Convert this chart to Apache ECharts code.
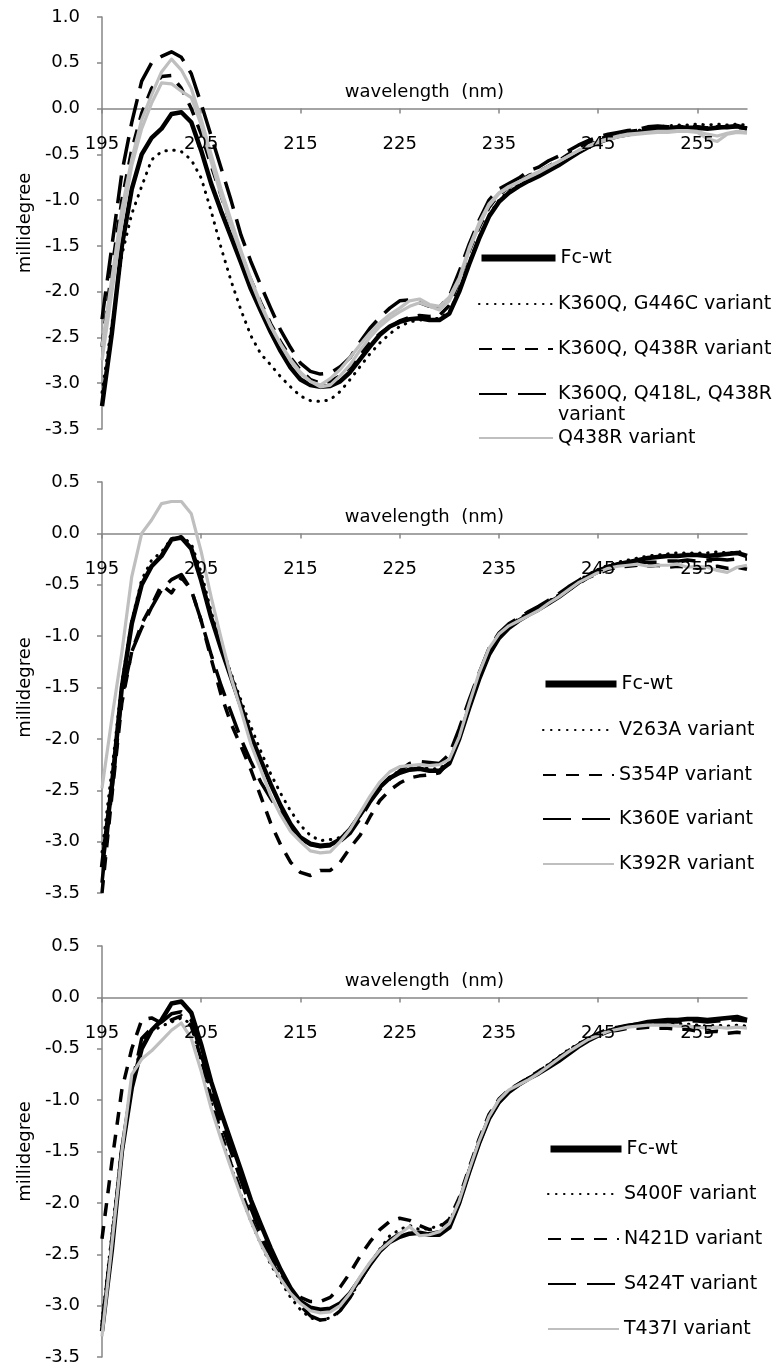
<!DOCTYPE html>
<html>
<head>
<meta charset="utf-8">
<script src="https://cdn.jsdelivr.net/npm/echarts@6/dist/echarts.min.js"></script>
<style>
html,body{margin:0;padding:0;background:#fff;}
#chart{width:782px;height:1370px;}
</style>
</head>
<body>
<div id="chart"></div>
<script>
// ---------- data ----------
const wavelengths = [195,196,197,198,199,200,201,202,203,204,205,206,207,208,209,210,211,212,213,214,215,216,217,218,219,220,221,222,223,224,225,226,227,228,229,230,231,232,233,234,235,236,237,238,239,240,241,242,243,244,245,246,247,248,249,250,251,252,253,254,255,256,257,258,259,260];
const xTicks = [195,205,215,225,235,245,255];
const xAxisTitle = 'wavelength  (nm)';

const fcWt = [
 -3.25,-2.45,-1.50,-0.88,-0.50,-0.32,-0.22,-0.06,-0.04,-0.15,
 -0.46,-0.82,-1.12,-1.40,-1.68,-1.97,-2.21,-2.44,-2.65,-2.83,
 -2.96,-3.02,-3.04,-3.03,-2.98,-2.88,-2.74,-2.60,-2.47,-2.38,
 -2.33,-2.30,-2.29,-2.31,-2.31,-2.24,-2.00,-1.70,-1.42,-1.18,
 -1.02,-0.92,-0.85,-0.79,-0.74,-0.68,-0.62,-0.55,-0.48,-0.42,
 -0.37,-0.33,-0.30,-0.28,-0.26,-0.24,-0.23,-0.22,-0.22,-0.21,
 -0.21,-0.22,-0.21,-0.20,-0.19,-0.22];

// panel 1
const k360qG446c = [
 -3.10,-2.35,-1.60,-1.15,-0.85,-0.56,-0.47,-0.45,-0.47,-0.56,
 -0.76,-1.12,-1.52,-1.88,-2.20,-2.48,-2.68,-2.80,-2.93,-3.04,
 -3.14,-3.19,-3.20,-3.18,-3.09,-2.96,-2.82,-2.68,-2.56,-2.46,
 -2.38,-2.33,-2.31,-2.30,-2.29,-2.22,-1.98,-1.68,-1.40,-1.16,
 -1.00,-0.90,-0.83,-0.77,-0.71,-0.66,-0.60,-0.53,-0.46,-0.40,
 -0.35,-0.31,-0.28,-0.26,-0.24,-0.22,-0.20,-0.19,-0.18,-0.18,
 -0.17,-0.18,-0.17,-0.18,-0.17,-0.18];
const k360qQ438r = [
 -2.60,-1.75,-1.00,-0.45,-0.05,0.22,0.35,0.36,0.22,0.00,
 -0.28,-0.62,-0.95,-1.27,-1.58,-1.87,-2.12,-2.35,-2.55,-2.72,
 -2.86,-2.96,-3.00,-2.98,-2.92,-2.82,-2.68,-2.56,-2.46,-2.38,
 -2.32,-2.28,-2.26,-2.27,-2.26,-2.15,-1.88,-1.56,-1.30,-1.08,
 -0.94,-0.86,-0.80,-0.73,-0.69,-0.63,-0.57,-0.50,-0.44,-0.38,
 -0.34,-0.30,-0.27,-0.25,-0.24,-0.22,-0.21,-0.21,-0.20,-0.20,
 -0.20,-0.21,-0.20,-0.20,-0.21,-0.21];
const k360qQ418lQ438r = [
 -2.30,-1.50,-0.70,-0.15,0.30,0.50,0.57,0.62,0.56,0.38,
 0.05,-0.30,-0.65,-1.00,-1.38,-1.67,-1.93,-2.18,-2.42,-2.61,
 -2.78,-2.87,-2.90,-2.89,-2.82,-2.72,-2.55,-2.40,-2.28,-2.18,
 -2.10,-2.09,-2.12,-2.16,-2.17,-2.05,-1.78,-1.48,-1.22,-1.00,
 -0.88,-0.82,-0.76,-0.68,-0.64,-0.57,-0.52,-0.46,-0.40,-0.35,
 -0.31,-0.28,-0.26,-0.24,-0.23,-0.20,-0.19,-0.20,-0.19,-0.21,
 -0.22,-0.21,-0.20,-0.21,-0.20,-0.22];
const q438rA = [
 -2.75,-2.00,-1.25,-0.62,-0.22,0.06,0.28,0.27,0.19,0.12,
 -0.18,-0.58,-0.95,-1.28,-1.58,-1.88,-2.15,-2.38,-2.58,-2.76,
 -2.90,-2.98,-3.02,-2.95,-2.85,-2.72,-2.58,-2.45,-2.34,-2.25,
 -2.18,-2.10,-2.08,-2.14,-2.16,-2.06,-1.85,-1.52,-1.25,-1.04,
 -0.92,-0.85,-0.80,-0.74,-0.69,-0.63,-0.58,-0.52,-0.46,-0.41,
 -0.37,-0.34,-0.31,-0.29,-0.28,-0.27,-0.26,-0.26,-0.25,-0.25,
 -0.26,-0.33,-0.36,-0.28,-0.26,-0.27];
const q438rB = [
 -2.60,-1.85,-1.10,-0.55,-0.12,0.15,0.40,0.54,0.42,0.22,
 -0.12,-0.50,-0.88,-1.22,-1.55,-1.86,-2.13,-2.37,-2.57,-2.74,
 -2.88,-2.98,-3.04,-3.02,-2.92,-2.80,-2.64,-2.50,-2.38,-2.29,
 -2.22,-2.16,-2.12,-2.16,-2.20,-2.10,-1.88,-1.55,-1.28,-1.06,
 -0.93,-0.86,-0.80,-0.75,-0.70,-0.64,-0.58,-0.52,-0.46,-0.41,
 -0.36,-0.33,-0.30,-0.28,-0.27,-0.26,-0.25,-0.25,-0.24,-0.24,
 -0.25,-0.28,-0.30,-0.27,-0.25,-0.26];

// panel 2
const v263a = [
 -3.10,-2.30,-1.45,-0.85,-0.45,-0.26,-0.18,-0.05,-0.03,-0.10,
 -0.38,-0.76,-1.08,-1.36,-1.62,-1.88,-2.12,-2.34,-2.53,-2.70,
 -2.84,-2.94,-2.99,-2.98,-2.96,-2.88,-2.75,-2.60,-2.47,-2.37,
 -2.31,-2.28,-2.27,-2.29,-2.29,-2.22,-1.98,-1.68,-1.40,-1.16,
 -1.00,-0.90,-0.83,-0.77,-0.72,-0.66,-0.60,-0.53,-0.46,-0.40,
 -0.35,-0.31,-0.28,-0.26,-0.24,-0.22,-0.21,-0.20,-0.19,-0.19,
 -0.19,-0.19,-0.18,-0.19,-0.18,-0.18];
const s354p = [
 -3.50,-2.55,-1.65,-1.15,-0.88,-0.70,-0.50,-0.58,-0.43,-0.55,
 -0.85,-1.22,-1.57,-1.85,-2.07,-2.30,-2.56,-2.82,-3.03,-3.20,
 -3.30,-3.33,-3.28,-3.28,-3.20,-3.06,-2.94,-2.76,-2.60,-2.50,
 -2.43,-2.38,-2.36,-2.35,-2.33,-2.22,-1.98,-1.68,-1.40,-1.16,
 -1.00,-0.90,-0.84,-0.78,-0.73,-0.67,-0.61,-0.55,-0.49,-0.43,
 -0.39,-0.35,-0.33,-0.32,-0.31,-0.32,-0.31,-0.33,-0.32,-0.33,
 -0.34,-0.33,-0.32,-0.34,-0.33,-0.35];
const k360e = [
 -3.40,-2.50,-1.60,-1.15,-0.92,-0.72,-0.55,-0.45,-0.40,-0.55,
 -0.85,-1.18,-1.48,-1.74,-2.00,-2.22,-2.42,-2.58,-2.72,-2.86,
 -2.97,-3.03,-3.05,-3.04,-3.00,-2.92,-2.78,-2.62,-2.49,-2.39,
 -2.31,-2.24,-2.22,-2.23,-2.24,-2.15,-1.90,-1.62,-1.36,-1.12,
 -0.97,-0.88,-0.82,-0.76,-0.71,-0.65,-0.59,-0.52,-0.46,-0.40,
 -0.36,-0.32,-0.30,-0.30,-0.29,-0.28,-0.28,-0.27,-0.27,-0.26,
 -0.27,-0.26,-0.25,-0.26,-0.25,-0.25];
const k392r = [
 -2.48,-1.80,-1.16,-0.42,0.00,0.13,0.29,0.31,0.31,0.19,
 -0.18,-0.62,-1.02,-1.40,-1.72,-2.05,-2.30,-2.55,-2.74,-2.90,
 -3.00,-3.09,-3.11,-3.10,-3.00,-2.88,-2.72,-2.56,-2.42,-2.32,
 -2.27,-2.26,-2.25,-2.26,-2.25,-2.20,-1.98,-1.66,-1.36,-1.12,
 -0.98,-0.90,-0.85,-0.80,-0.75,-0.68,-0.62,-0.55,-0.48,-0.43,
 -0.38,-0.34,-0.32,-0.31,-0.30,-0.32,-0.31,-0.31,-0.30,-0.33,
 -0.32,-0.33,-0.36,-0.38,-0.33,-0.31];

// panel 3
const s400f = [
 -3.15,-2.30,-1.45,-0.90,-0.42,-0.33,-0.28,-0.24,-0.20,-0.26,
 -0.62,-1.02,-1.35,-1.65,-1.92,-2.18,-2.40,-2.60,-2.76,-2.92,
 -3.04,-3.12,-3.14,-3.12,-3.05,-2.92,-2.76,-2.60,-2.45,-2.32,
 -2.26,-2.22,-2.26,-2.25,-2.22,-2.18,-1.98,-1.68,-1.40,-1.16,
 -1.00,-0.90,-0.84,-0.78,-0.72,-0.65,-0.58,-0.51,-0.45,-0.39,
 -0.35,-0.32,-0.30,-0.28,-0.27,-0.27,-0.26,-0.26,-0.26,-0.26,
 -0.27,-0.28,-0.27,-0.28,-0.27,-0.28];
const n421d = [
 -2.35,-1.60,-0.90,-0.50,-0.22,-0.20,-0.25,-0.22,-0.18,-0.28,
 -0.60,-0.98,-1.32,-1.62,-1.88,-2.14,-2.38,-2.56,-2.72,-2.84,
 -2.92,-2.96,-2.96,-2.92,-2.82,-2.68,-2.52,-2.38,-2.26,-2.18,
 -2.15,-2.17,-2.22,-2.26,-2.24,-2.16,-1.95,-1.66,-1.38,-1.14,
 -0.99,-0.90,-0.84,-0.78,-0.72,-0.66,-0.59,-0.52,-0.46,-0.40,
 -0.36,-0.33,-0.32,-0.30,-0.30,-0.29,-0.30,-0.30,-0.31,-0.31,
 -0.33,-0.34,-0.33,-0.35,-0.34,-0.35];
const s424t = [
 -3.20,-2.35,-1.50,-0.85,-0.40,-0.30,-0.24,-0.16,-0.14,-0.22,
 -0.55,-0.92,-1.22,-1.50,-1.78,-2.05,-2.30,-2.52,-2.70,-2.87,
 -3.00,-3.10,-3.14,-3.13,-3.05,-2.92,-2.76,-2.60,-2.46,-2.36,
 -2.30,-2.27,-2.30,-2.30,-2.28,-2.22,-2.00,-1.70,-1.42,-1.18,
 -1.02,-0.92,-0.85,-0.79,-0.73,-0.66,-0.59,-0.52,-0.46,-0.40,
 -0.35,-0.31,-0.29,-0.27,-0.26,-0.25,-0.25,-0.24,-0.24,-0.23,
 -0.23,-0.24,-0.23,-0.22,-0.22,-0.23];
const t437i = [
 -3.30,-2.40,-1.50,-0.75,-0.60,-0.52,-0.42,-0.32,-0.25,-0.40,
 -0.72,-1.08,-1.38,-1.66,-1.93,-2.18,-2.40,-2.58,-2.74,-2.88,
 -2.98,-3.05,-3.07,-3.06,-3.00,-2.88,-2.72,-2.58,-2.46,-2.38,
 -2.30,-2.23,-2.32,-2.31,-2.28,-2.20,-1.98,-1.68,-1.40,-1.16,
 -1.00,-0.90,-0.85,-0.80,-0.74,-0.67,-0.60,-0.53,-0.47,-0.41,
 -0.37,-0.33,-0.31,-0.29,-0.28,-0.27,-0.27,-0.27,-0.28,-0.28,
 -0.29,-0.30,-0.29,-0.30,-0.29,-0.30];

const names1 = ['Fc-wt','K360Q, G446C variant','K360Q, Q438R variant','K360Q, Q418L, Q438R variant','Q438R variant'];
const names2 = ['Fc-wt','V263A variant','S354P variant','K360E variant','K392R variant'];
const names3 = ['Fc-wt','S400F variant','N421D variant','S424T variant','T437I variant'];

// ---------- styling ----------
const FONT = 'DejaVu Sans';
const AX = '#868686';
const ST = {
  wt:    {color:'#000000', width:4.5, type:'solid'},
  dot:   {color:'#000000', width:3, type:[0.5,7.5], cap:'round'},
  dash:  {color:'#000000', width:3.5, type:[13,10]},
  ldash: {color:'#000000', width:3.5, type:[28,11]},
  gray:  {color:'#bfbfbf', width:3.2, type:'solid'}
};
const panelStyles = ['wt','dot','dash','ldash','gray'];

const grids = [
  {left:102, top:17,  width:645, height:412},
  {left:102, top:482, width:645, height:411},
  {left:102, top:946, width:645, height:411}
];
const yMax = [1.0, 0.5, 0.5];

function mk(name, vals, key, gi){
  const s = ST[key];
  return {
    type:'line', name:name, xAxisIndex:gi, yAxisIndex:gi,
    data: wavelengths.map((w,i)=>[w, vals[i]]),
    symbol:'none', showSymbol:false, silent:true, animation:false,
    color:s.color,
    itemStyle:{color:s.color},
    lineStyle:{color:s.color, width:s.width, type:s.type, cap:s.cap||'butt', join:'round'}
  };
}

const series = [];
const p1 = [fcWt, k360qG446c, k360qQ438r, k360qQ418lQ438r, q438rA];
const p2 = [fcWt, v263a, s354p, k360e, k392r];
const p3 = [fcWt, s400f, n421d, s424t, t437i];
p1.forEach((v,i)=>series.push(mk(names1[i], v, panelStyles[i], 0)));
series.push(mk(names1[4], q438rB, 'gray', 0));
p2.forEach((v,i)=>series.push(mk(names2[i], v, panelStyles[i], 1)));
p3.forEach((v,i)=>series.push(mk(names3[i], v, panelStyles[i], 2)));

// x axis line and ticks sit on the zero line of the y axis (onZero);
// its labels/title are placed next to that line below.
const xAxes = grids.map((g,i)=>({
  type:'value', gridIndex:i, min:195, max:260,
  axisLine:{show:true, onZero:true, onZeroAxisIndex:i, lineStyle:{color:AX, width:1.5}},
  axisTick:{show:true, inside:false, length:5, customValues:xTicks, lineStyle:{color:AX, width:1.5}},
  axisLabel:{show:false},
  splitLine:{show:false}
}));
const yAxes = grids.map((g,i)=>({
  type:'value', gridIndex:i, min:-3.5, max:yMax[i], interval:0.5,
  name:'millidegree', nameLocation:'middle', nameGap:67,
  nameTextStyle:{fontFamily:FONT, fontSize:18, color:'#000'},
  axisLine:{show:true, onZero:false, lineStyle:{color:AX, width:1.5}},
  axisTick:{show:true, length:5, lineStyle:{color:AX, width:1.5}},
  axisLabel:{margin:22, fontFamily:FONT, fontSize:18, color:'#000', formatter:(v)=>v.toFixed(1)},
  splitLine:{show:false}
}));

// legends: one component per entry, placed like the original
const legendPos = [
  {x:478, w:74, ys:[258,304,349,394,438], names:names1},
  {x:542, w:71, ys:[684,730,775,819,864], names:names2},
  {x:547, w:71, ys:[1149,1194,1239,1284,1329], names:names3}
];
const legends = [];
legendPos.forEach(p=>{
  p.names.forEach((n,k)=>{
    const multi = (n === 'K360Q, Q418L, Q438R variant');
    const lh = 21;
    legends.push({
      show:true, data:[n], left:p.x, top: multi ? p.ys[k] - 1.5*lh : p.ys[k]-10,
      orient:'vertical', padding:0, itemGap:0, itemWidth:p.w, itemHeight:20,
      selectedMode:false,
      formatter: multi ? (()=>'\u00a0\nK360Q, Q418L, Q438R\nvariant') : undefined,
      itemStyle:{opacity:0},
      lineStyle: k===0 ? {width:7} : {},
      textStyle:{fontFamily:FONT, fontSize:19, color:'#000', lineHeight:multi?lh:20}
    });
  });
});

const chart = echarts.init(document.getElementById('chart'), null, {renderer:'canvas'});
chart.setOption({
  backgroundColor:'#ffffff',
  animation:false,
  grid:grids,
  xAxis:xAxes,
  yAxis:yAxes,
  legend:legends,
  series:series
});

// tick labels and axis title of each wavelength axis, positioned through the axes' own scales
const gfx = [];
grids.forEach((g,i)=>{
  const y0 = chart.convertToPixel({yAxisIndex:i}, 0);
  xTicks.forEach(t=>{
    const x = chart.convertToPixel({xAxisIndex:i}, t);
    gfx.push({type:'text', x:x, y:y0 + 36, silent:true, z:10,
      style:{text:String(t), fill:'#000', font:'18px "' + FONT + '"', fontFamily:FONT, fontSize:18,
             align:'center', verticalAlign:'middle', textAlign:'center', textVerticalAlign:'middle'}});
  });
  const xm = chart.convertToPixel({xAxisIndex:i}, 227.5);
  gfx.push({type:'text', x:xm, y:y0 - 16, silent:true, z:10,
    style:{text:xAxisTitle, fill:'#000', font:'18px "' + FONT + '"', fontFamily:FONT, fontSize:18,
           align:'center', verticalAlign:'middle', textAlign:'center', textVerticalAlign:'middle'}});
});
chart.setOption({graphic: gfx});
</script>
</body>
</html>
